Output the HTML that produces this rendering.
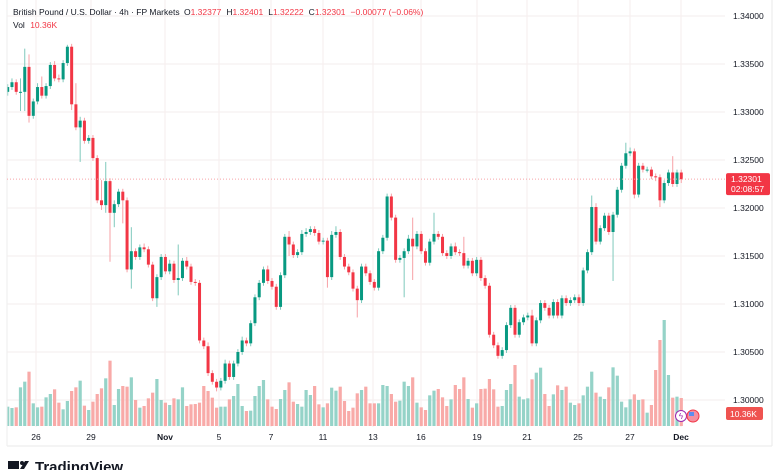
<!DOCTYPE html>
<html><head><meta charset="utf-8">
<style>
html,body{margin:0;padding:0;background:#fff;}
body{width:780px;height:470px;overflow:hidden;position:relative;font-family:"Liberation Sans",sans-serif;}
svg{position:absolute;left:0;top:0;}
</style></head>
<body>
<svg id="chart" width="780" height="470" viewBox="0 0 780 470">
  <defs><clipPath id="plotClip"><rect x="7" y="0" width="718" height="427"/></clipPath></defs>
  <g id="grid"></g>
  <g id="vols" clip-path="url(#plotClip)"></g>
  <g id="candles" clip-path="url(#plotClip)"></g>
  <g id="axes"></g>
  <text x="13" y="15" font-size="8.5" fill="#131722">British Pound / U.S. Dollar · 4h · FP Markets <tspan dx="2">O</tspan><tspan fill="#f23645">1.32377</tspan><tspan dx="5">H</tspan><tspan fill="#f23645">1.32401</tspan><tspan dx="5">L</tspan><tspan fill="#f23645">1.32222</tspan><tspan dx="5">C</tspan><tspan fill="#f23645">1.32301</tspan><tspan dx="5" fill="#f23645">−0.00077 (−0.06%)</tspan></text>
  <text x="13" y="28" font-size="8.5" fill="#131722">Vol <tspan dx="3" fill="#f23645">10.36K</tspan></text>
  <g>
    <rect x="8" y="461" width="11" height="8" fill="#131722"/>
    <polygon points="20,469 25,461 29,461 24,469" fill="#131722"/>
    <circle cx="22" cy="463" r="2" fill="#131722"/>
    <text x="35" y="472" font-size="15" font-weight="bold" fill="#131722">TradingView</text>
  </g>
</svg>
<script>
const dates = ["26","29","Nov","5","7","11","13","16","19","21","25","27","Dec"];
const dateX = [36,91,165,219,271,323,373,421,477,527,578,630,681];
const priceTicks = [1.34,1.335,1.33,1.325,1.32,1.315,1.31,1.305,1.30];
const firstOpen = 1.3321;
const closes = [1.3326,1.3331,1.3321,1.3321,1.3347,1.3296,1.3311,1.3326,1.3317,1.3327,
1.3349,1.3335,1.3334,1.3351,1.3368,1.3308,1.3284,1.3291,1.3270,1.3273,
1.3252,1.3208,1.3203,1.3228,1.3195,1.3204,1.3217,1.3208,1.3136,1.3155,
1.3149,1.3159,1.3157,1.3141,1.3106,1.3128,1.3149,1.3134,1.3142,1.3125,
1.3127,1.3145,1.3139,1.3123,1.3122,1.3062,1.3056,1.3028,1.3019,1.3013,
1.3020,1.3038,1.3024,1.3038,1.3050,1.3062,1.3059,1.3080,1.3107,1.3122,
1.3136,1.3124,1.3118,1.3097,1.3130,1.3170,1.3162,1.3151,1.3154,1.3173,
1.3175,1.3178,1.3174,1.3165,1.3166,1.3128,1.3172,1.3175,1.3149,1.3139,
1.3133,1.3116,1.3104,1.3139,1.3132,1.3123,1.3117,1.3155,1.3169,1.3212,
1.3190,1.3146,1.3148,1.3155,1.3168,1.3160,1.3173,1.3155,1.3143,1.3165,
1.3173,1.3170,1.3153,1.3150,1.3160,1.3154,1.3153,1.3140,1.3145,1.3132,
1.3146,1.3127,1.3119,1.3068,1.3057,1.3046,1.3052,1.3078,1.3096,1.3068,
1.3081,1.3086,1.3088,1.3059,1.3083,1.3101,1.3096,1.3088,1.3102,1.3088,
1.3106,1.3101,1.3104,1.3107,1.3101,1.3135,1.3154,1.3201,1.3165,1.3179,
1.3192,1.3175,1.3193,1.3219,1.3244,1.3257,1.3259,1.3214,1.3244,1.3240,
1.3240,1.3233,1.3232,1.3208,1.3226,1.3237,1.3225,1.3237,1.3230];
const upWick = [3,4,3,14,19,13,3,4,11,3, 3,4,4,3,2,3,22,4,3,3, 3,3,21,20,3,4,3,3,3,25,
3,3,4,3,3,3,3,3,4,3, 35,3,4,3,3,3,3,4,3,3, 3,4,3,3,3,4,3,3,3,3,
3,4,3,3,3,3,6,3,3,4, 4,3,3,3,3,3,4,6,3,3, 3,3,3,3,3,3,3,3,3,3,
3,3,3,3,4,22,3,3,3,3, 22,3,3,3,3,4,3,17,3,3, 3,3,3,3,3,3,3,3,3,3,
3,3,3,6,3,3,3,3,3,3, 3,3,3,3,3,3,3,12,4,3, 3,3,3,3,3,11,4,3,3,3,
3,3,3,3,3,3,17,3,3];
const dnWick = [4,3,3,20,20,7,3,3,3,3, 3,3,3,3,3,6,3,36,3,3, 3,3,5,8,51,15,3,24,3,20,
3,3,3,3,3,9,3,3,3,3, 16,3,3,3,3,3,3,3,3,4, 3,3,3,3,3,3,3,3,3,3,
3,3,3,3,3,3,12,3,3,3, 3,3,3,3,3,11,3,3,3,3, 3,3,18,3,3,3,3,3,3,3,
3,3,3,41,3,35,3,3,3,3, 3,3,3,3,3,3,3,3,3,3, 3,3,3,3,3,3,3,3,3,3,
3,3,3,3,3,3,3,3,3,3, 3,3,3,3,3,3,3,3,3,3, 3,3,51,3,3,3,3,4,3,3,
3,3,4,7,3,3,3,3,4];
const volumes = [58,54,56,116,133,163,68,56,58,86, 96,110,70,50,75,105,116,136,61,48,
73,96,113,143,196,63,111,120,118,146, 78,55,60,83,100,141,78,70,63,83,
80,116,60,65,66,70,120,105,85,55, 58,58,80,90,126,60,45,46,90,120,
138,80,58,51,81,108,131,73,66,58, 108,93,120,65,56,68,115,106,118,75,
45,55,98,108,118,68,68,68,123,120, 96,73,76,133,120,146,70,56,48,92,
106,111,86,60,80,123,111,146,81,55, 68,111,112,141,110,58,60,108,126,183,
88,80,83,140,160,175,96,60,95,122, 108,118,70,63,68,92,118,163,100,88,
81,116,176,151,73,56,80,95,78,80, 40,63,168,258,318,153,85,88,84];
const lastPrice = 1.32301;

const NS = "http://www.w3.org/2000/svg";
function el(tag, attrs, parent){ const e=document.createElementNS(NS,tag); for(const k in attrs) e.setAttribute(k,attrs[k]); parent.appendChild(e); return e; }
const yP = p => 208 - (p - 1.32) / 0.005 * 48;
const xI = i => 7.7 + i * 4.263;
const yV = v => 426 - v / 3;
const PIP = 0.0001;

const grid = document.getElementById('grid');
const axes = document.getElementById('axes');
priceTicks.forEach(p => {
  const ln = el('line',{x1:7,x2:725,y1:yP(p),y2:yP(p),stroke:'#f3eeee','stroke-width':1},grid);
  
  
  const t = el('text',{x:733,y:yP(p)+3,'font-size':8.5,fill:'#131722'},axes);
  t.textContent = p.toFixed(5);
  
  
});
dates.forEach((d,k) => {
  const ln = el('line',{x1:dateX[k],x2:dateX[k],y1:0,y2:427,stroke:'#f6eeee','stroke-width':1},grid);
  
  
  const t = el('text',{x:dateX[k],y:440,'font-size':8.5,fill:'#131722','text-anchor':'middle','font-weight':d==='Nov'||d==='Dec'?'bold':'normal'},axes);
  t.textContent = d;
  
  
});
const b1 = el('line',{x1:7,x2:772,y1:446,y2:446,stroke:'#eaeaea'},axes);


const b2 = el('line',{x1:772,x2:772,y1:0,y2:446,stroke:'#eaeaea'},axes);


const b3 = el('line',{x1:7,x2:7,y1:0,y2:446,stroke:'#eeeeee'},axes);



const vg = document.getElementById('vols');
const cg = document.getElementById('candles');
closes.forEach((c,i) => {
  const o = i===0 ? firstOpen : closes[i-1];
  const up = c >= o;
  const col = up ? '#089981' : '#f23645';
  const x = xI(i);
  const vb = el('rect',{x:x-1.6,y:yV(volumes[i]),width:3.2,height:volumes[i]/3,fill:up?'#95d3c8':'#f8aaa8'},vg);
  
  
  const hi = Math.max(o,c) + upWick[i]*PIP;
  const lo = Math.min(o,c) - dnWick[i]*PIP;
  const w = el('line',{x1:x,x2:x,y1:yP(hi),y2:yP(lo),stroke:up?'#7fc9bc':'#f7a0a6','stroke-width':1},cg);
  
  
  const top = yP(Math.max(o,c)), bot = yP(Math.min(o,c));
  const b = el('rect',{x:x-1.5,y:top,width:3,height:Math.max(1,bot-top),fill:col},cg);
  
  
});

const ly = yP(lastPrice);
const pl = el('line',{x1:7,x2:725,y1:ly,y2:ly,stroke:'#f7a3a8','stroke-dasharray':'1,2'},axes);


const pb = el('rect',{x:726,y:ly-6,width:44,height:22,rx:2,fill:'#f23645'},axes);


const pt = el('text',{x:731,y:ly+3,'font-size':8.5,fill:'#fff'},axes);
pt.textContent = lastPrice.toFixed(5);


const ct = el('text',{x:731,y:ly+13,'font-size':8.5,fill:'#fff'},axes);
ct.textContent = '02:08:57';


const vb = el('rect',{x:726,y:407,width:37,height:13,rx:2,fill:'#ef5350'},axes);


const vt = el('text',{x:730,y:417,'font-size':8.5,fill:'#fff'},axes);
vt.textContent = '10.36K';


const i1 = el('circle',{cx:681,cy:416,r:5.5,fill:'#fff',stroke:'#9c27b0','stroke-width':1},axes);


const i1t = el('text',{x:681,y:419,'font-size':8,fill:'#9c27b0','text-anchor':'middle'},axes);
i1t.textContent = 'ϟ';


const i2 = el('circle',{cx:693,cy:416,r:6,fill:'#f48fa0',stroke:'#f23645','stroke-width':1},axes);


const i2b = el('rect',{x:689,y:412,width:5,height:4,fill:'#5b8def'},axes);


</script>
</body></html>
